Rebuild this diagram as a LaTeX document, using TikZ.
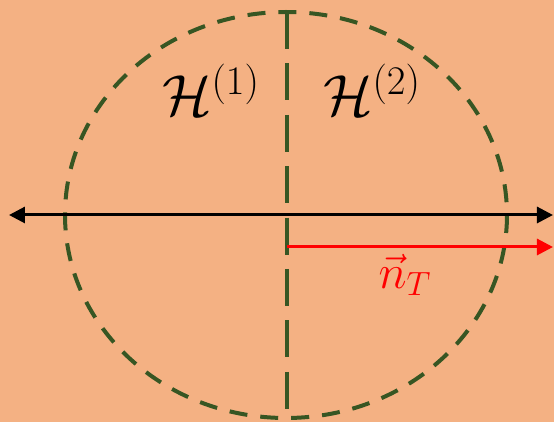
\RequirePackage{fix-cm}
\documentclass[tikz,border=0pt]{standalone}
\usepackage{amsmath}
\usetikzlibrary{arrows.meta, positioning}

\definecolor{bgsalmon}{HTML}{F4B183}
\definecolor{darkgreen}{HTML}{375623}

\begin{document}
\begin{tikzpicture}[
    x=0.5pt, y=-0.5pt,
    border/.style={draw=darkgreen, line width=2pt, dash pattern=on 9pt off 6.5pt},
    cut/.style={draw=darkgreen, line width=2pt, dash pattern=on 18.5pt off 7.2pt},
    axis/.style={draw, line width=1.5pt, {Triangle[length=8pt,width=8pt]}-{Triangle[length=8pt,width=8pt]}},
    normal/.style={draw=red, line width=1.5pt, -{Triangle[length=8pt,width=8pt]}},
    label/.style={inner sep=0pt, font=\fontsize{29}{34}\selectfont}
]

\fill [bgsalmon] (0,0) rectangle (554,422);
\useasboundingbox (0,0) rectangle (554,422);

\coordinate (top) at (287,12);
\coordinate (bot) at (287,418);
\coordinate (west) at (9,215);
\coordinate (east) at (553,215);
\coordinate (origin) at (287,247);
\coordinate (tip) at (553,247);

\draw [border] (286,215) ellipse [x radius=221, y radius=203];
\path [cut] (top) -- (bot);
\path [axis] (west) -- (east);
\path [normal] (origin) -- (tip);

\node [label] (h1) at (211,90) {$\mathcal{H}^{(1)}$};
\node [label] (h2) at (372,90) {$\mathcal{H}^{(2)}$};
\node [label, text=red, font=\fontsize{24}{28}\selectfont] (nt) at (405,275) {$\vec{n}_T$};
\end{tikzpicture}
\end{document}
